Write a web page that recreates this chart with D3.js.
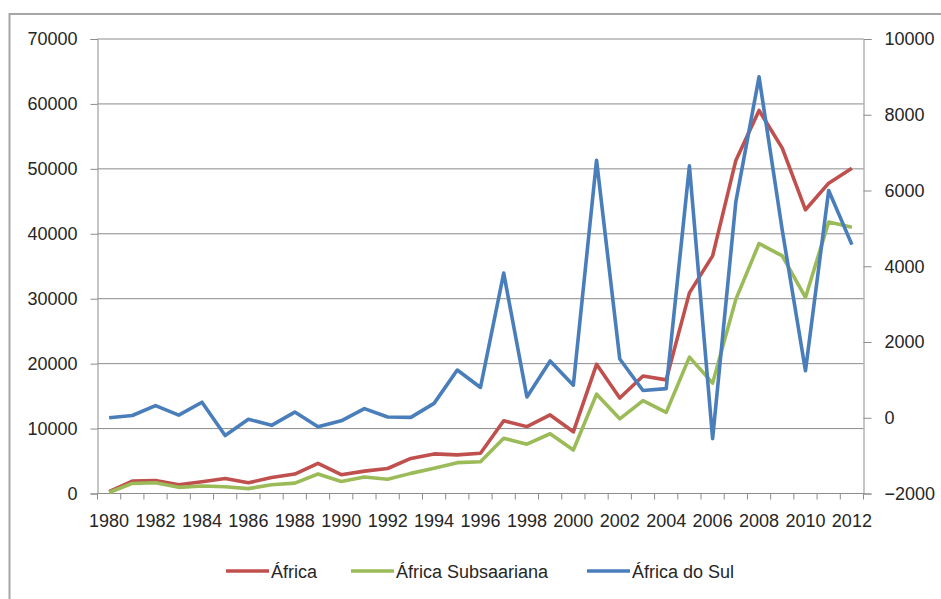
<!DOCTYPE html>
<html>
<head>
<meta charset="utf-8">
<script src="https://cdn.jsdelivr.net/npm/d3@7"></script>
<style>
  body { margin: 0; background: #fff; }
  svg { display: block; }
</style>
</head>
<body>
<div id="chart"></div>
<script>
// Data
const years = d3.range(1980, 2013);
const africa = [300, 1900, 2000, 1350, 1800, 2300, 1650, 2450, 3000, 4650, 2900, 3450, 3850,
  5400, 6100, 5950, 6200, 11200, 10300, 12100, 9500, 19900, 14700, 18100, 17500, 30900,
  36600, 51300, 59000, 53200, 43700, 47800, 50100];
const subsaariana = [150, 1550, 1650, 950, 1150, 1050, 750, 1350, 1600, 3000, 1850, 2550, 2200,
  3100, 3900, 4750, 4900, 8500, 7600, 9200, 6700, 15300, 11500, 14300, 12500, 21000,
  17000, 29900, 38500, 36600, 30200, 41800, 41000];
const africaDoSul = [0, 60, 320, 70, 410, -470, -40, -200, 150, -240, -80, 240, 20,
  10, 380, 1260, 800, 3820, 550, 1500, 860, 6800, 1550, 720, 770, 6650,
  -550, 5700, 9000, 4950, 1240, 6000, 4570];
const leftTicks = [0, 10000, 20000, 30000, 40000, 50000, 60000, 70000];
const rightTicks = [-2000, 0, 2000, 4000, 6000, 8000, 10000];

const series = [
  { name: 'África', values: africa, axis: 'left', color: '#c0504d' },
  { name: 'África Subsaariana', values: subsaariana, axis: 'left', color: '#9bbb59' },
  { name: 'África do Sul', values: africaDoSul, axis: 'right', color: '#4a7ebb' }
];

const width = 941, height = 599;
const plot = { left: 97.5, right: 863.5, top: 39, bottom: 493.5 };
const font = '"Liberation Sans", Arial, sans-serif';

const svg = d3.select('#chart').append('svg')
  .attr('width', width)
  .attr('height', height);

// outer frame (only top and left edges are visible in the reference)
svg.append('rect')
  .attr('x', 9.5).attr('y', 14)
  .attr('width', 1000).attr('height', 700)
  .attr('fill', 'none')
  .attr('stroke', '#a6a6a6')
  .attr('stroke-width', 2);

const x = d3.scaleBand()
  .domain(years)
  .range([plot.left, plot.right])
  .padding(0);
const yLeft = d3.scaleLinear().domain([0, 70000]).range([plot.bottom, plot.top]);
const yRight = d3.scaleLinear().domain([-2000, 10000]).range([plot.bottom, plot.top]);

// horizontal gridlines
svg.append('g')
  .selectAll('line')
  .data(leftTicks.slice(1))
  .join('line')
  .attr('x1', plot.left).attr('x2', plot.right)
  .attr('y1', d => yLeft(d)).attr('y2', d => yLeft(d))
  .attr('stroke', '#8c8c8c')
  .attr('stroke-width', 1);

// left axis
const gl = svg.append('g')
  .attr('transform', `translate(${plot.left},0)`)
  .call(d3.axisLeft(yLeft).tickValues(leftTicks).tickSize(7).tickPadding(13).tickFormat(d3.format('d')));

// right axis
const gr = svg.append('g')
  .attr('transform', `translate(${plot.right},0)`)
  .call(d3.axisRight(yRight).tickValues(rightTicks).tickSize(8).tickPadding(13).tickFormat(d3.format('d')));

// bottom axis: tick marks between categories, labels every other year
const gb = svg.append('g').attr('transform', `translate(0,${plot.bottom})`);
gb.append('line')
  .attr('x1', plot.left).attr('x2', plot.right)
  .attr('stroke', '#8c8c8c');
gb.selectAll('line.tick')
  .data(years.concat([2013]))
  .join('line')
  .attr('class', 'tick')
  .attr('x1', (d, i) => plot.left + i * x.bandwidth())
  .attr('x2', (d, i) => plot.left + i * x.bandwidth())
  .attr('y1', 0).attr('y2', 6)
  .attr('stroke', '#8c8c8c');
gb.selectAll('text')
  .data(years.filter(d => d % 2 === 0))
  .join('text')
  .attr('x', d => x(d) + x.bandwidth() / 2)
  .attr('y', 33)
  .attr('text-anchor', 'middle')
  .text(d => d);

[gl, gr].forEach(g => {
  g.select('.domain').attr('stroke', '#8c8c8c');
  g.selectAll('.tick line').attr('stroke', '#8c8c8c');
});
svg.selectAll('text')
  .attr('font-family', font)
  .attr('font-size', 18)
  .attr('fill', '#262626');

// series lines
const line = scale => d3.line()
  .x((d, i) => x(years[i]) + x.bandwidth() / 2)
  .y(d => scale(d));

svg.append('g')
  .selectAll('path')
  .data(series)
  .join('path')
  .attr('fill', 'none')
  .attr('stroke', d => d.color)
  .attr('stroke-width', 3.6)
  .attr('stroke-linejoin', 'round')
  .attr('d', d => line(d.axis === 'left' ? yLeft : yRight)(d.values));

// legend
const legendPos = [226, 351, 587];
const legend = svg.append('g')
  .selectAll('g')
  .data(series)
  .join('g')
  .attr('transform', (d, i) => `translate(${legendPos[i]},571)`);
legend.append('line')
  .attr('x1', 0).attr('x2', 43)
  .attr('stroke', d => d.color)
  .attr('stroke-width', 3.6);
legend.append('text')
  .attr('x', 45)
  .attr('y', 6.5)
  .attr('font-family', font)
  .attr('font-size', 18)
  .attr('fill', '#262626')
  .text(d => d.name);
</script>
</body>
</html>
